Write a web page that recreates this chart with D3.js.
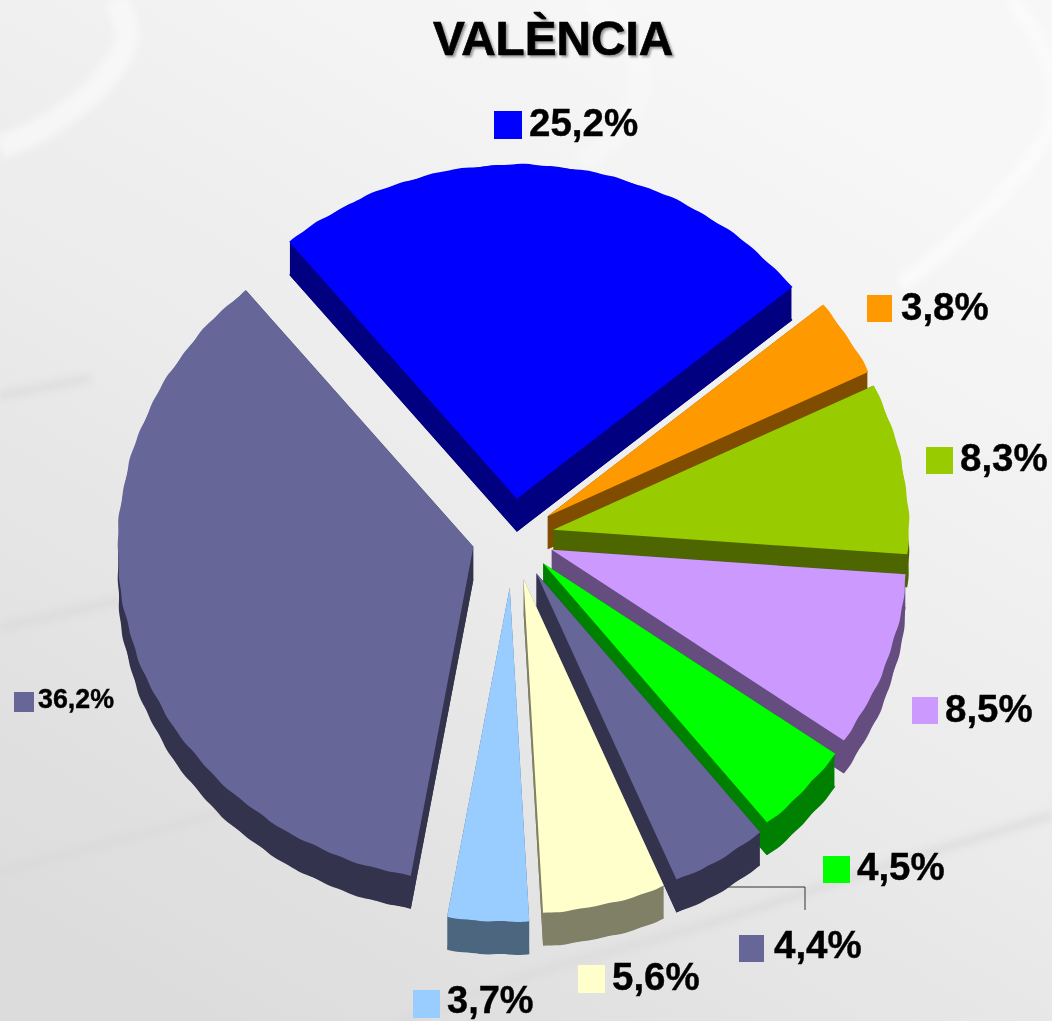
<!DOCTYPE html>
<html><head><meta charset="utf-8">
<script src="https://cdn.jsdelivr.net/npm/d3@7"></script>
<style>html,body{margin:0;padding:0;background:#eee}svg{display:block}text{font-family:"Liberation Sans",Arial,sans-serif;font-weight:bold;fill:#000}</style>
</head><body><script>
// data, clockwise from the blue slice
const values = [25.2, 3.8, 8.3, 8.5, 4.5, 4.4, 5.6, 3.7, 36.2];
const labels = ["25,2%","3,8%","8,3%","8,5%","4,5%","4,4%","5,6%","3,7%","36,2%"];
const colors = ["#0000FF","#FF9900","#99CC00","#CC99FF","#00FF00","#666699","#FFFFCC","#99CCFF","#666699"];
const wallColors = ["#000080","#804D00","#4D6600","#664D80","#008000","#33334D","#808066","#4D6680","#33334D"];
const title = "VALÈNCIA";

// layout
const W = 1052, H = 1021;
const cx = 513, cy = 537, R = 355.5, tilt = 0.94, depth = 33;
const explode = [41,41,41,41,41,45,46,54,41];
const swatches = [[494,111,28,28],[867,295,25,27],[926,447,27,27],[912,697,26,27],[823,856,27,27],[739,935,25,27],[578,965,27,28],[413,990,27,28],[14,692,20,20]];
const labelPos = [[529,136,38.5],[901,320,38.5],[960,471,38.5],[945,722,38.5],[857,880,38.5],[774,958,38.5],[612,990,38.5],[447,1013,38],[38,708,26.8]];
const leader = [[725,887],[805,887],[805,910]];
const lightBands = [
  {pts:[[0,148],[50,124],[100,84],[127,38],[116,0]], w:24, o:0.6},
  {pts:[[1012,0],[1048,60],[1052,120],[1010,185],[950,245],[900,285]], w:16, o:0.8},
  {pts:[[590,0],[632,40],[640,85],[622,130],[580,165]], w:22, o:0.45}
];
const darkBands = [[[0,396],[90,378]],[[0,628],[130,598]],[[0,872],[225,812]],[[1052,815],[880,868],[720,920],[530,975],[400,1021]]];

const svg = d3.select("body").append("svg").attr("width",W).attr("height",H);
const defs = svg.append("defs");
const grad = defs.append("linearGradient").attr("id","bg").attr("x1","0.75").attr("y1","0.08").attr("x2","0.2").attr("y2","1");
grad.append("stop").attr("offset",0).attr("stop-color","#f7f7f7");
grad.append("stop").attr("offset",0.5).attr("stop-color","#ebebeb");
grad.append("stop").attr("offset",1).attr("stop-color","#dcdcdc");
defs.append("filter").attr("id","soft").attr("x","-20%").attr("y","-20%").attr("width","140%").attr("height","140%").append("feGaussianBlur").attr("stdDeviation",3.5);

svg.append("rect").attr("width",W).attr("height",H).attr("fill","url(#bg)");
const curve = d3.line().curve(d3.curveCatmullRom);
svg.append("g").attr("filter","url(#soft)").selectAll("path").data(lightBands).join("path")
  .attr("d",d=>curve(d.pts)).attr("fill","none").attr("stroke","#fbfbfb").attr("stroke-width",d=>d.w).attr("opacity",d=>d.o);
svg.append("g").attr("filter","url(#soft)").selectAll("path").data(darkBands).join("path")
  .attr("d",curve).attr("fill","none").attr("stroke","#d8d8d8").attr("stroke-width",9).attr("opacity",0.6);

// title with shadow
svg.append("text").attr("x",553).attr("y",55).attr("text-anchor","middle").attr("font-size",47.7)
  .attr("stroke","#000").attr("stroke-width",0.7).style("filter","drop-shadow(2.5px 2px 1px #999)").text(title);

// pie
const pie = d3.pie().sort(null).startAngle(-39.8*Math.PI/180).endAngle((360-39.8)*Math.PI/180);
const arcs = pie(values);
const sx = d3.scaleLinear().domain([-1,1]).range([-1,1]);
const sy = d3.scaleLinear().domain([-1,1]).range([-tilt,tilt]);
const line = d3.line();
// slightly uneven rim of the original bitmap
const rim = t => R + 0.4*Math.sin(t*71) + 0.45*Math.sin(t*29+1);

arcs.forEach((a,i)=>{
  const mid = (a.startAngle+a.endAngle)/2;
  const ax = cx + explode[i]*Math.sin(mid);
  const ay = cy - explode[i]*tilt*Math.cos(mid);
  const n = Math.ceil((a.endAngle-a.startAngle)/0.012);
  const ts = d3.range(n+1).map(j=>a.startAngle+(a.endAngle-a.startAngle)*j/n);
  const at = (t,r)=>[ax+r*sx(Math.sin(t)), ay-r*sy(Math.cos(t))];
  const top = [[ax,ay]].concat(ts.map(t=>at(t,rim(t))));
  const inner = [[ax,ay]].concat(ts.map(t=>at(t,R-0.9)));
  // wall: prism body plus the rim shifted down
  const hull = d3.polygonHull(inner.concat(inner.map(p=>[p[0],p[1]+depth])));
  svg.append("path").attr("d",line(hull)+"Z").attr("fill",wallColors[i]);
  svg.append("path").attr("d",line(top.map(p=>[p[0],p[1]+depth]))+"Z").attr("fill",wallColors[i]);
  svg.append("path").attr("d",line(top)+"Z").attr("fill",colors[i]);
});

// leader line
svg.append("path").attr("d",line(leader)).attr("fill","none").attr("stroke","#333").attr("stroke-width",1);

// labels
svg.selectAll("rect.sw").data(swatches).join("rect").attr("class","sw")
  .attr("x",d=>d[0]).attr("y",d=>d[1]).attr("width",d=>d[2]).attr("height",d=>d[3]).attr("fill",(d,i)=>colors[i]);
svg.selectAll("text.lb").data(labels).join("text").attr("class","lb")
  .attr("x",(d,i)=>labelPos[i][0]).attr("y",(d,i)=>labelPos[i][1]).attr("font-size",(d,i)=>labelPos[i][2])
  .attr("stroke","#000").attr("stroke-width",0.4).text(d=>d);
</script></body></html>
